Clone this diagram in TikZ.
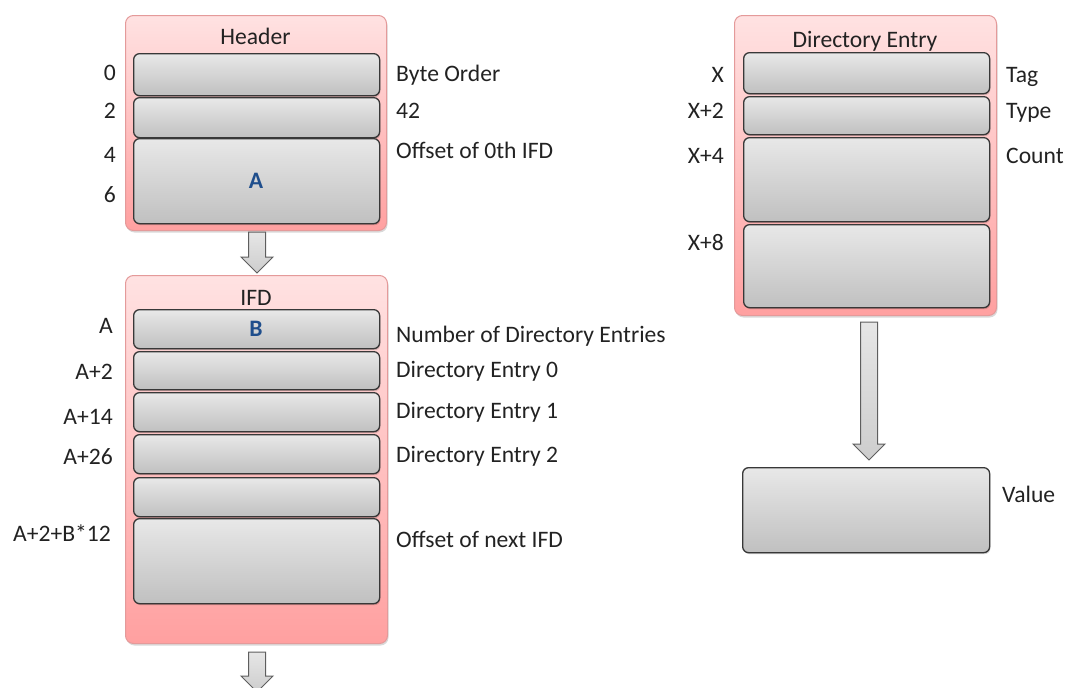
\documentclass[tikz,border=0pt]{standalone}
\usepackage{fontspec}
\setmainfont{Carlito}
\usetikzlibrary{calc}

\definecolor{txt}{HTML}{222222}
\definecolor{acc}{HTML}{1F4E8C}
\definecolor{pnltop}{HTML}{FFE2E2}
\definecolor{pnlbot}{HTML}{FFA0A0}
\definecolor{pnlline}{HTML}{E49A9A}
\definecolor{celltop}{HTML}{E8E8E8}
\definecolor{cellbot}{HTML}{C0C0C0}
\definecolor{cellline}{HTML}{383838}
\definecolor{arrtop}{HTML}{E6E6E6}
\definecolor{arrbot}{HTML}{CDCDCD}
\definecolor{arrline}{HTML}{5E5E5E}

\tikzset{
  panel/.style={draw=pnlline, line width=1pt, rounded corners=8pt,
    top color=pnltop, bottom color=pnlbot, anchor=north west, inner sep=0pt,
    preaction={fill=black, opacity=0.15, rounded corners=8pt,
      transform canvas={xshift=1pt, yshift=-2pt}}},
  cell/.style={draw=cellline, line width=1.3pt, rounded corners=6pt,
    top color=celltop, bottom color=cellbot, anchor=north west, inner sep=0pt,
    preaction={fill=black, opacity=0.18, rounded corners=6pt,
      transform canvas={xshift=0.8pt, yshift=-1.5pt}}},
  lbl/.style={text=txt, inner sep=0pt, font=\fontsize{23.6}{28}\selectfont},
  lft/.style={lbl, anchor=base east},
  rgt/.style={lbl, anchor=base west},
  ttl/.style={lbl, anchor=base},
  val/.style={lbl, text=acc, anchor=base, font=\fontsize{23.6}{28}\selectfont\bfseries},
  fat/.style={draw=arrline, line width=1pt, top color=arrtop, bottom color=arrbot,
    line join=miter}
}

% block arrow from #1 (top of shaft) down to #2 (tip)
\newcommand\fatarrow[2]{%
  \draw[fat] ($(#1)+(-8.5,0)$) -- ($(#1)+(8.5,0)$) -- ($(#2)+(8.5,-16)$)
    -- ($(#2)+(16,-16)$) -- (#2) -- ($(#2)+(-16,-16)$)
    -- ($(#2)+(-8.5,-16)$) -- cycle;}

\begin{document}
\begin{tikzpicture}[x=1pt, y=-1pt]
\useasboundingbox (0,0) rectangle (1069,688);

% ---- Header ----
\node[panel, minimum width=261pt, minimum height=215pt] (hdr) at (125,15) {};
\node[ttl] (hdrt) at (255.5,44) {Header};
\node[cell, minimum width=246pt, minimum height=42pt] (h0) at (133,53) {};
\node[cell, minimum width=246pt, minimum height=40pt] (h1) at (133,97) {};
\node[cell, minimum width=246pt, minimum height=85pt] (h2) at (133,138) {};
\node[val] (hA) at (256,188) {A};
\node[lft] (o0) at (116,80) {0};
\node[lft] (o2) at (116,118) {2};
\node[lft] (o4) at (116,162) {4};
\node[lft] (o6) at (116,202) {6};
\node[rgt] (r0) at (396,81) {Byte Order};
\node[rgt] (r1) at (396,118) {42};
\node[rgt] (r2) at (396,158) {Offset of 0th IFD};

% ---- IFD ----
\node[panel, minimum width=262pt, minimum height=368pt] (ifd) at (125,275) {};
\node[ttl] (ifdt) at (256,305) {IFD};
\node[cell, minimum width=246pt, minimum height=39pt] (i0) at (133,309) {};
\node[cell, minimum width=246pt, minimum height=38pt] (i1) at (133,351) {};
\node[cell, minimum width=246pt, minimum height=39pt] (i2) at (133,392) {};
\node[cell, minimum width=246pt, minimum height=39pt] (i3) at (133,434) {};
\node[cell, minimum width=246pt, minimum height=39pt] (i4) at (133,477) {};
\node[cell, minimum width=246pt, minimum height=85pt] (i5) at (133,518) {};
\node[val] (iB) at (256,336) {B};
\node[lft] (oa) at (113,333) {A};
\node[lft] (oa2) at (113,379) {A+2};
\node[lft] (oa14) at (113,424) {A+14};
\node[lft] (oa26) at (113,464) {A+26};
\node[lft] (oan) at (111,541) {A+2+B*12};
\node[rgt] (s0) at (396,342) {Number of Directory Entries};
\node[rgt] (s1) at (396,377) {Directory Entry 0};
\node[rgt] (s2) at (396,418) {Directory Entry 1};
\node[rgt] (s3) at (396,462) {Directory Entry 2};
\node[rgt] (s4) at (396,547) {Offset of next IFD};

% ---- Directory entry ----
\node[panel, minimum width=262pt, minimum height=300pt] (de) at (734,15) {};
\node[ttl] (det) at (865,47) {Directory Entry};
\node[cell, minimum width=246pt, minimum height=41pt] (d0) at (743,52) {};
\node[cell, minimum width=246pt, minimum height=38pt] (d1) at (743,96) {};
\node[cell, minimum width=246pt, minimum height=84pt] (d2) at (743,137) {};
\node[cell, minimum width=246pt, minimum height=83pt] (d3) at (743,224) {};
\node[lft] (ox) at (724,82) {X};
\node[lft] (ox2) at (724,118) {X+2};
\node[lft] (ox4) at (724,163) {X+4};
\node[lft] (ox8) at (724,250) {X+8};
\node[rgt] (t0) at (1006,82) {Tag};
\node[rgt] (t1) at (1006,118) {Type};
\node[rgt] (t2) at (1006,163) {Count};

% ---- Value ----
\node[cell, minimum width=247pt, minimum height=85pt] (vb) at (742,467) {};
\node[rgt] (vt) at (1002,502) {Value};

% ---- block arrows ----
\coordinate (a1s) at (257,232);
\coordinate (a1e) at (257,273);
\fatarrow{a1s}{a1e}
\coordinate (a2s) at (257,652);
\coordinate (a2e) at (257,692);
\fatarrow{a2s}{a2e}
\coordinate (a3s) at (869,322);
\coordinate (a3e) at (869,460);
\fatarrow{a3s}{a3e}
\end{tikzpicture}
\end{document}
